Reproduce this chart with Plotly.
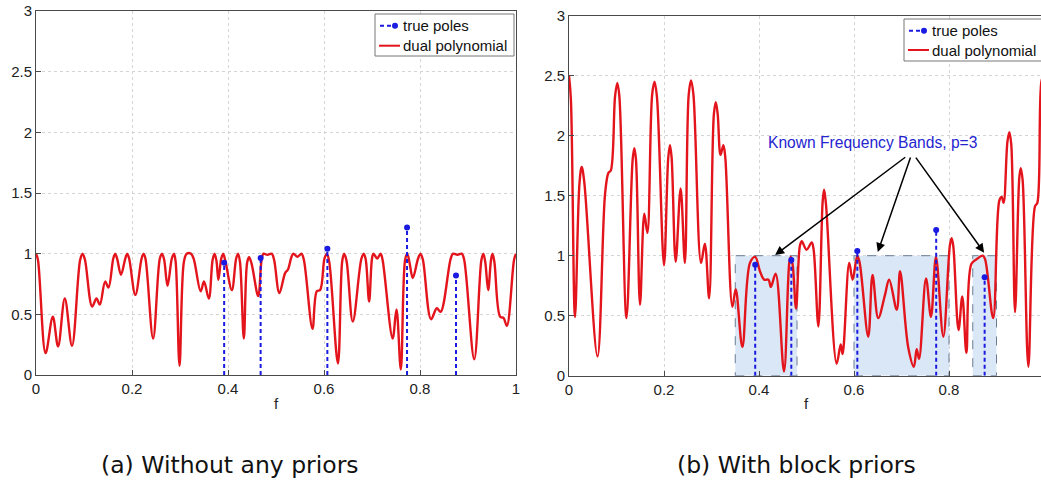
import plotly.graph_objects as go

# ---------------- data ----------------
f_a = [0.000, 0.004, 0.020, 0.035, 0.046, 0.060, 0.075, 0.092, 0.097, 0.102,
       0.117, 0.126, 0.133, 0.144, 0.151, 0.161, 0.165, 0.169, 0.177, 0.186,
       0.190, 0.194, 0.207, 0.220, 0.224, 0.228, 0.244, 0.258, 0.2625, 0.267,
       0.274, 0.283, 0.2875, 0.291, 0.299, 0.308, 0.314, 0.323, 0.329, 0.343,
       0.350, 0.360, 0.368, 0.372, 0.376, 0.380, 0.386, 0.390, 0.395, 0.408,
       0.417, 0.421, 0.425, 0.433, 0.440, 0.444, 0.449, 0.463, 0.470, 0.474,
       0.482, 0.491, 0.496, 0.507, 0.519, 0.525, 0.532, 0.536, 0.545, 0.553,
       0.558, 0.576, 0.585, 0.592, 0.601, 0.606, 0.611, 0.629, 0.638, 0.642,
       0.647, 0.660, 0.678, 0.683, 0.687, 0.694, 0.700, 0.703, 0.711, 0.718,
       0.722, 0.743, 0.751, 0.760, 0.769, 0.7735, 0.778, 0.785, 0.796, 0.801,
       0.806, 0.823, 0.835, 0.843, 0.864, 0.869, 0.878, 0.887, 0.892, 0.913,
       0.928, 0.932, 0.936, 0.942, 0.948, 0.951, 0.955, 0.967, 0.974, 0.981,
       0.996, 1.000]
dual_a = [1.00, 0.95, 0.18, 0.48, 0.235, 0.63, 0.24, 0.95, 1.00, 0.95,
          0.565, 0.63, 0.58, 0.77, 0.72, 0.96, 1.00, 0.96, 0.826, 0.96,
          1.00, 0.96, 0.66, 0.96, 1.00, 0.96, 0.30, 0.96, 1.00, 0.95,
          0.735, 0.96, 1.00, 0.93, 0.075, 0.93, 1.00, 1.00, 0.95, 0.69,
          0.77, 0.63, 0.95, 1.00, 0.94, 0.785, 0.96, 1.00, 0.93, 0.70,
          0.96, 1.00, 0.93, 0.30, 0.93, 0.97, 0.92, 0.65, 0.95, 1.00,
          0.99, 1.00, 0.95, 0.675, 0.84, 0.87, 0.97, 1.00, 0.975, 1.00,
          0.95, 0.38, 0.69, 0.70, 0.96, 1.00, 0.93, 0.095, 0.94, 1.00,
          0.94, 0.44, 0.96, 1.00, 0.95, 0.605, 0.96, 1.00, 0.96, 1.00,
          0.95, 0.30, 0.54, 0.045, 0.95, 1.00, 0.93, 0.80, 0.96, 1.00,
          0.95, 0.46, 0.55, 0.52, 0.96, 1.00, 0.99, 1.00, 0.95, 0.13,
          0.95, 1.00, 0.93, 0.70, 0.95, 1.00, 0.93, 0.48, 0.47, 0.405,
          0.95, 1.00]

f_b = [0.000, 0.004, 0.0126, 0.022, 0.0267, 0.032, 0.060, 0.076, 0.083, 0.088,
       0.097, 0.1017, 0.106, 0.121, 0.134, 0.1375, 0.141, 0.1495, 0.1586, 0.165,
       0.175, 0.180, 0.185, 0.200, 0.209, 0.2126, 0.216, 0.2246, 0.235, 0.244,
       0.252, 0.257, 0.262, 0.278, 0.286, 0.295, 0.305, 0.309, 0.313, 0.319,
       0.325, 0.329, 0.344, 0.351, 0.365, 0.381, 0.392, 0.402, 0.411, 0.420,
       0.425, 0.435, 0.4526, 0.464, 0.467, 0.471, 0.478, 0.486, 0.490, 0.500,
       0.511, 0.515, 0.525, 0.534, 0.537, 0.541, 0.5635, 0.572, 0.576, 0.590,
       0.597, 0.607, 0.612, 0.630, 0.639, 0.651, 0.665, 0.674, 0.690, 0.697,
       0.714, 0.726, 0.732, 0.737, 0.7516, 0.762, 0.7726, 0.788, 0.802, 0.8056,
       0.809, 0.820, 0.828, 0.8366, 0.847, 0.858, 0.871, 0.876, 0.893, 0.906,
       0.911, 0.915, 0.923, 0.927, 0.931, 0.939, 0.948, 0.951, 0.955, 0.967,
       0.981, 0.986, 0.995, 1.000]
dual_b = [2.50, 2.30, 0.49, 1.60, 1.74, 1.62, 0.16, 1.52, 1.69, 1.71,
          2.33, 2.44, 2.33, 0.48, 1.80, 1.895, 1.80, 0.59, 1.35, 1.19,
          2.34, 2.45, 2.33, 0.92, 1.82, 1.92, 1.82, 0.95, 1.56, 0.94,
          2.34, 2.46, 2.34, 0.94, 1.10, 0.645, 2.18, 2.28, 2.18, 1.84,
          1.92, 1.82, 0.575, 0.72, 0.24, 0.94, 0.99, 0.87, 0.80, 0.80,
          0.74, 0.85, 0.035, 0.95, 0.99, 0.92, 0.56, 1.08, 1.12, 1.05,
          1.11, 1.05, 0.41, 1.45, 1.55, 1.43, 0.10, 0.26, 0.18, 0.94,
          0.80, 1.00, 0.94, 0.325, 0.84, 0.48, 0.67, 0.80, 0.55, 0.87,
          0.24, 0.075, 0.22, 0.14, 0.81, 0.49, 0.99, 0.325, 1.09, 1.145,
          1.08, 0.38, 0.66, 0.19, 0.93, 0.97, 1.00, 0.97, 0.48, 1.46,
          1.49, 1.44, 1.95, 2.03, 1.93, 0.53, 1.65, 1.73, 1.63, 0.075,
          1.41, 1.44, 2.46, 2.50]

pole_f = [0.392, 0.468, 0.607, 0.773, 0.875]
pole_amp = [0.925, 0.965, 1.04, 1.215, 0.82]

band_lo = [0.35, 0.60, 0.85]
band_hi = [0.48, 0.80, 0.90]
band_top = [1.0, 1.0, 1.0]

x_ticks = [0, 0.2, 0.4, 0.6, 0.8, 1]
x_ticklabels = ["0", "0.2", "0.4", "0.6", "0.8", "1"]
y_ticks = [0, 0.5, 1, 1.5, 2, 2.5, 3]
y_ticklabels = ["0", "0.5", "1", "1.5", "2", "2.5", "3"]

legend_names = ["true poles", "dual polynomial"]
captions = ["(a) Without any priors", "(b) With block priors"]
band_label = "Known Frequency Bands, p=3"
band_label_pos = (0.6386, 1.94)
arrow_tail = [(0.711, 1.83), (0.720, 1.83), (0.728, 1.83)]
arrow_head = [(0.434, 1.006), (0.650, 1.03), (0.874, 1.025)]

# ---------------- style ----------------
RED = "#e3141b"
BLUE = "#1a1ae0"
FONT = "Liberation Sans, Arial, sans-serif"
AXC = "#4a4a4a"
W, H = 1041, 483

fig = go.Figure()


def add_panel(xa, ya, fx, fy):
    fig.add_trace(go.Scatter(x=fx, y=fy, mode="lines", name=legend_names[1],
                             line=dict(color=RED, width=2.4, shape="spline", smoothing=1.0),
                             xaxis=xa, yaxis=ya, showlegend=False, hoverinfo="skip"))
    xs, ys = [], []
    for p, a in zip(pole_f, pole_amp):
        xs += [p, p, None]
        ys += [0, a, None]
    fig.add_trace(go.Scatter(x=xs, y=ys, mode="lines", name=legend_names[0],
                             line=dict(color=BLUE, width=2, dash="4px,3px"),
                             xaxis=xa, yaxis=ya, showlegend=False, hoverinfo="skip"))
    fig.add_trace(go.Scatter(x=pole_f, y=pole_amp, mode="markers", name=legend_names[0],
                             marker=dict(color=BLUE, size=6),
                             xaxis=xa, yaxis=ya, showlegend=False, hoverinfo="skip"))


add_panel("x", "y", f_a, dual_a)
add_panel("x2", "y2", f_b, dual_b)

for lo, hi, top in zip(band_lo, band_hi, band_top):
    fig.add_shape(type="rect", xref="x2", yref="y2", x0=lo, x1=hi, y0=0, y1=top,
                  fillcolor="#d9e7f7", line=dict(color="#6b7c93", width=1, dash="dash"), layer="between")


def px(x):
    return x / W


def py(y):
    return (H - y) / H


def draw_legend(x0, x1, y0, y1, row1, row2, sym0, sym1, text_x):
    fig.add_shape(type="rect", xref="paper", yref="paper", x0=px(x0), x1=px(x1), y0=py(y1), y1=py(y0),
                  fillcolor="white", line=dict(color="#777", width=1), layer="above")
    # true poles symbol: dashed blue line with dot
    fig.add_shape(type="line", xref="paper", yref="paper", x0=px(sym0 + 1), x1=px(sym1 - 4),
                  y0=py(row1), y1=py(row1), line=dict(color=BLUE, width=2, dash="4px,3px"), layer="above")
    fig.add_shape(type="circle", xref="paper", yref="paper", x0=px(sym1 - 8), x1=px(sym1 - 2),
                  y0=py(row1 + 3), y1=py(row1 - 3), fillcolor=BLUE, line=dict(color=BLUE, width=0), layer="above")
    fig.add_shape(type="line", xref="paper", yref="paper", x0=px(sym0), x1=px(sym1),
                  y0=py(row2), y1=py(row2), line=dict(color=RED, width=2), layer="above")
    for name, ry in zip(legend_names, [row1, row2]):
        fig.add_annotation(text=name, xref="paper", yref="paper", x=px(text_x), y=py(ry),
                           xanchor="left", yanchor="middle", showarrow=False,
                           font=dict(family=FONT, size=15, color="#111"))


draw_legend(375, 514, 14, 56, 25.7, 45.7, 379, 400, 401)
draw_legend(904, 1041.5, 19, 61, 30.7, 50.0, 908, 929, 930)

axis_common = dict(ticks="inside", ticklen=5, tickcolor=AXC, showline=True, linecolor=AXC, linewidth=1,
                   showgrid=True, gridcolor="#d4d4d4", griddash="dot", gridwidth=1, zeroline=False,
                   automargin=False, tickfont=dict(family=FONT, size=15, color="#222"))

fig.update_layout(
    width=W, height=H, margin=dict(l=0, r=0, t=0, b=0, pad=0, autoexpand=False),
    paper_bgcolor="white", plot_bgcolor="white", showlegend=False,
    xaxis=dict(domain=[36 / W, 516 / W], range=[0, 1], tickvals=x_ticks, ticktext=x_ticklabels,
               mirror=True, anchor="y", **axis_common),
    yaxis=dict(domain=[(H - 375) / H, (H - 11) / H], range=[0, 3], tickvals=y_ticks, ticktext=y_ticklabels,
               mirror=True, anchor="x", **axis_common),
    xaxis2=dict(domain=[569 / W, 1.0], range=[0, 472 / 475], tickvals=x_ticks, ticktext=x_ticklabels,
                mirror=True, anchor="y2", **axis_common),
    yaxis2=dict(domain=[(H - 375.7) / H, (H - 15.7) / H], range=[0, 3], tickvals=y_ticks, ticktext=y_ticklabels,
                mirror=False, anchor="x2", **axis_common),
)

# axis titles "f"
for cx in [(36 + 516) / 2, (569 + 1044) / 2]:
    fig.add_annotation(text="f", xref="paper", yref="paper", x=px(cx), y=py(403),
                       xanchor="center", yanchor="middle", showarrow=False,
                       font=dict(family=FONT, size=15, color="#222"))

# captions
for cap, cx in zip(captions, [230, 796]):
    fig.add_annotation(text=cap, xref="paper", yref="paper", x=px(cx), y=py(465),
                       xanchor="center", yanchor="middle", showarrow=False,
                       font=dict(family="DejaVu Sans, sans-serif", size=23.5, color="#111"))

# band label and arrows
fig.add_annotation(text=band_label, xref="x2", yref="y2", x=band_label_pos[0], y=band_label_pos[1],
                   xanchor="center", yanchor="middle", showarrow=False,
                   font=dict(family=FONT, size=15.6, color="#2424d0"))
for (tx, ty), (hx, hy) in zip(arrow_tail, arrow_head):
    fig.add_annotation(text="", xref="x2", yref="y2", x=hx, y=hy, axref="x2", ayref="y2", ax=tx, ay=ty,
                       showarrow=True, arrowhead=2, arrowsize=1.2, arrowwidth=1.5, arrowcolor="black")

fig.write_html("out.html", config={"displayModeBar": False},
               post_script="document.body.style.margin='0';document.body.style.padding='0';")
